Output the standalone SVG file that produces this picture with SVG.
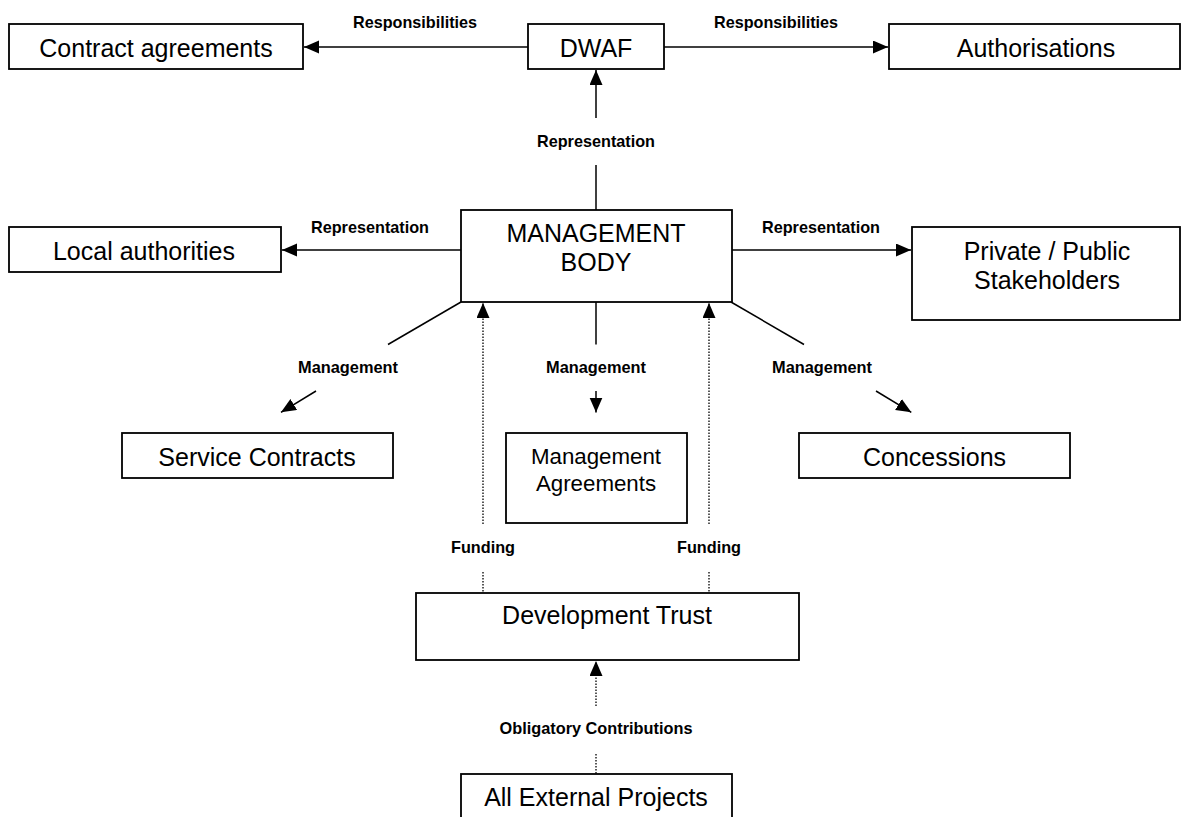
<svg xmlns="http://www.w3.org/2000/svg" width="1182" height="817" viewBox="0 0 1182 817">
<style>
.box{fill:#fff;stroke:#000;stroke-width:1.8}
.t{font-family:"Liberation Sans",Arial,sans-serif;font-size:25px;fill:#000;text-anchor:middle}
.t2{font-family:"Liberation Sans",Arial,sans-serif;font-size:22.3px;fill:#000;text-anchor:middle}
.lbl{font-family:"Liberation Sans Narrow","Liberation Sans",Arial,sans-serif;font-weight:bold;font-size:17px;fill:#000;text-anchor:middle}
.ln{fill:none;stroke:#000;stroke-width:1.5}
.dot{fill:none;stroke:#000;stroke-width:1.3;stroke-dasharray:1.5 1.5}
</style>
<defs>
<marker id="ah" markerUnits="userSpaceOnUse" markerWidth="16" markerHeight="14" refX="15" refY="6.5" orient="auto" viewBox="0 0 16 14">
<path d="M0,0 L15,6.5 L0,13 z" fill="#000" stroke="none"/>
</marker>
</defs>
<rect width="1182" height="817" fill="#fff"/>
<g id="connectors">
<line class="ln" x1="528" y1="47" x2="304" y2="47" marker-end="url(#ah)"/>
<line class="ln" x1="664" y1="47" x2="888" y2="47" marker-end="url(#ah)"/>
<line class="ln" x1="596" y1="118" x2="596" y2="70" marker-end="url(#ah)"/>
<line class="ln" x1="596" y1="165" x2="596" y2="210"/>
<line class="ln" x1="461" y1="250" x2="282" y2="250" marker-end="url(#ah)"/>
<line class="ln" x1="732" y1="250" x2="911" y2="250" marker-end="url(#ah)"/>
<line class="ln" x1="461" y1="302" x2="388" y2="344.5"/>
<line class="ln" x1="316" y1="391" x2="281" y2="412.3" marker-end="url(#ah)"/>
<line class="ln" x1="596" y1="302" x2="596" y2="344.5"/>
<line class="ln" x1="596" y1="391" x2="596" y2="412.5" marker-end="url(#ah)"/>
<line class="ln" x1="731" y1="302" x2="804" y2="344.5"/>
<line class="ln" x1="876" y1="391" x2="911.3" y2="412.3" marker-end="url(#ah)"/>
<line class="dot" x1="483" y1="524" x2="483" y2="303" marker-end="url(#ah)"/>
<line class="dot" x1="483" y1="572" x2="483" y2="593"/>
<line class="dot" x1="709" y1="524" x2="709" y2="303" marker-end="url(#ah)"/>
<line class="dot" x1="709" y1="572" x2="709" y2="593"/>
<line class="dot" x1="596" y1="706" x2="596" y2="661" marker-end="url(#ah)"/>
<line class="dot" x1="596" y1="754" x2="596" y2="774"/>
<text class="lbl" x="415" y="28" textLength="124" lengthAdjust="spacingAndGlyphs">Responsibilities</text>
<text class="lbl" x="776" y="28" textLength="124" lengthAdjust="spacingAndGlyphs">Responsibilities</text>
<text class="lbl" x="596" y="147" textLength="118" lengthAdjust="spacingAndGlyphs">Representation</text>
<text class="lbl" x="370" y="232.5" textLength="118" lengthAdjust="spacingAndGlyphs">Representation</text>
<text class="lbl" x="821" y="232.5" textLength="118" lengthAdjust="spacingAndGlyphs">Representation</text>
<text class="lbl" x="348" y="372.5" textLength="100" lengthAdjust="spacingAndGlyphs">Management</text>
<text class="lbl" x="596" y="372.5" textLength="100" lengthAdjust="spacingAndGlyphs">Management</text>
<text class="lbl" x="822" y="372.5" textLength="100" lengthAdjust="spacingAndGlyphs">Management</text>
<text class="lbl" x="483" y="552.5" textLength="64" lengthAdjust="spacingAndGlyphs">Funding</text>
<text class="lbl" x="709" y="552.5" textLength="64" lengthAdjust="spacingAndGlyphs">Funding</text>
<text class="lbl" x="596" y="734" textLength="193" lengthAdjust="spacingAndGlyphs">Obligatory Contributions</text>
</g>
<g id="contract-agreements">
<rect class="box" x="9" y="24" width="294" height="45"/>
<text class="t" x="156" y="57">Contract agreements</text>
</g>
<g id="dwaf">
<rect class="box" x="528" y="24" width="136" height="45"/>
<text class="t" x="596" y="57">DWAF</text>
</g>
<g id="authorisations">
<rect class="box" x="889" y="24" width="291" height="45"/>
<text class="t" x="1036" y="57">Authorisations</text>
</g>
<g id="management-body">
<rect class="box" x="461" y="210" width="271" height="92"/>
<text class="t" x="596" y="242">MANAGEMENT</text>
<text class="t" x="596" y="271">BODY</text>
</g>
<g id="local-authorities">
<rect class="box" x="9" y="227" width="272" height="45"/>
<text class="t" x="144" y="260">Local authorities</text>
</g>
<g id="private-public-stakeholders">
<rect class="box" x="912" y="227" width="268" height="93"/>
<text class="t" x="1047" y="260">Private / Public</text>
<text class="t" x="1047" y="289">Stakeholders</text>
</g>
<g id="service-contracts">
<rect class="box" x="122" y="433" width="271" height="45"/>
<text class="t" x="257" y="466">Service Contracts</text>
</g>
<g id="management-agreements">
<rect class="box" x="506" y="433" width="181" height="90"/>
<text class="t2" x="596" y="464">Management</text>
<text class="t2" x="596" y="491">Agreements</text>
</g>
<g id="concessions">
<rect class="box" x="799" y="433" width="271" height="45"/>
<text class="t" x="934.5" y="466">Concessions</text>
</g>
<g id="development-trust">
<rect class="box" x="416" y="593" width="383" height="67"/>
<text class="t" x="607" y="624">Development Trust</text>
</g>
<g id="all-external-projects">
<rect class="box" x="461" y="774" width="271" height="60"/>
<text class="t" x="596" y="806">All External Projects</text>
</g>
</svg>
